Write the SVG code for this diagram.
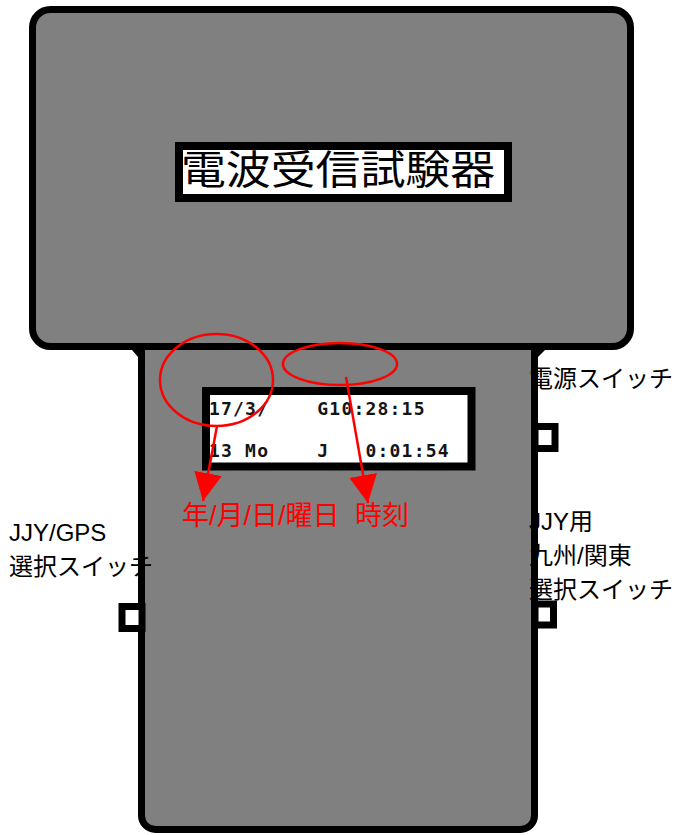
<svg xmlns="http://www.w3.org/2000/svg" width="678" height="835" viewBox="0 0 678 835">
  <style>
    .body { fill: #808080; stroke: #000; stroke-width: 7; }
    .box { fill: #fff; stroke: #000; stroke-width: 8; }
    .sw { fill: #fff; stroke: #000; stroke-width: 7; }
    .lbl { font-family: "Liberation Sans", "Noto Sans CJK JP", sans-serif; font-size: 24px; fill: #000; }
    .red { font-family: "Liberation Sans", "Noto Sans CJK JP", sans-serif; font-size: 27px; fill: #ff0000; }
    .lcd { font-family: "DejaVu Sans Mono", monospace; font-weight: bold; font-size: 18px; letter-spacing: 1.2px; fill: #141414; }
    .title { font-family: "Noto Sans CJK JP", sans-serif; font-weight: normal; font-size: 40px; fill: #000; }
    .ann { fill: none; stroke: #ff0000; stroke-width: 2.5; }
  </style>
  <defs>
    <marker id="ah" viewBox="0 0 28 28" refX="28" refY="14" markerWidth="28" markerHeight="28" markerUnits="userSpaceOnUse" orient="auto">
      <path d="M0,0 L28,14 L0,28 z" fill="#ff0000"/>
    </marker>
  </defs>

  <g id="lower-body">
    <rect class="body" x="141.5" y="330" width="393" height="499.5" rx="14"/>
  </g>

  <g id="top-body">
    <rect class="body" x="32.5" y="9.5" width="598" height="337" rx="18"/>
    <polygon points="132,350 138,350 138,357" fill="#000"/>
    <polygon points="538,350 545,350 538,357" fill="#000"/>
  </g>

  <g id="title-plate">
    <rect class="box" x="179" y="146" width="329" height="52"/>
    <text class="title" x="181" y="184" textLength="314" lengthAdjust="spacingAndGlyphs">電波受信試験器</text>
  </g>

  <g id="display">
    <rect class="box" x="206" y="391" width="265.5" height="75.5"/>
    <text class="lcd" x="209" y="415" xml:space="preserve">17/3/    G10:28:15</text>
    <text class="lcd" x="209" y="457" xml:space="preserve">13 Mo    J   0:01:54</text>
  </g>

  <g id="switch-gps">
    <rect class="sw" x="122" y="606.5" width="20" height="22"/>
  </g>
  <g id="switch-power">
    <rect class="sw" x="535" y="426.5" width="20" height="22"/>
  </g>
  <g id="switch-area">
    <rect class="sw" x="535" y="604" width="18.5" height="21"/>
  </g>

  <g id="annotations">
    <ellipse class="ann" cx="216.5" cy="380" rx="56.5" ry="46"/>
    <ellipse class="ann" cx="340" cy="364" rx="57" ry="21"/>
  </g>

  <g id="connectors">
    <line class="ann" x1="217" y1="426" x2="203" y2="501" marker-end="url(#ah)"/>
    <line class="ann" x1="346" y1="377" x2="368" y2="503" marker-end="url(#ah)"/>
  </g>

  <g id="labels">
    <text class="red" x="182" y="525">年/月/日/曜日</text>
    <text class="red" x="355" y="525">時刻</text>
    <text class="lbl" x="529" y="387">電源スイッチ</text>
    <text class="lbl" x="9" y="541">JJY/GPS</text>
    <text class="lbl" x="9" y="575">選択スイッチ</text>
    <text class="lbl" x="529" y="530">JJY用</text>
    <text class="lbl" x="529" y="564">九州/関東</text>
    <text class="lbl" x="529" y="598">選択スイッチ</text>
  </g>
</svg>
